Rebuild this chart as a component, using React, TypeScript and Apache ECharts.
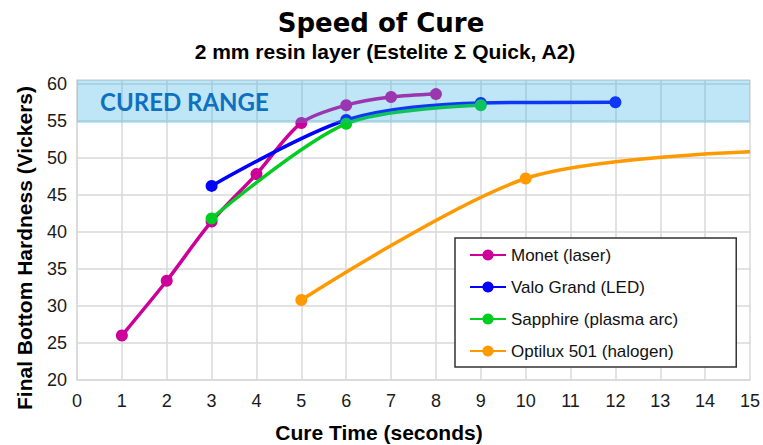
import React, { useEffect, useRef } from "react";
import * as echarts from "echarts";

// ---- data ----
const monetTime = [1, 2, 3, 4, 5, 6, 7, 8];
const monetHardness = [26.0, 33.4, 41.4, 47.8, 54.7, 57.1, 58.2, 58.6];
const valoTime = [3, 6, 9, 12];
const valoHardness = [46.2, 55.1, 57.4, 57.5];
const sapphireTime = [3, 6, 9];
const sapphireHardness = [41.8, 54.6, 57.1];
const optiluxTime = [5, 10, 15];
const optiluxHardness = [30.8, 47.2, 50.8];
const optiluxMarked = [true, true, false];
const seriesNames = [
  "Monet (laser)",
  "Valo Grand (LED)",
  "Sapphire (plasma arc)",
  "Optilux 501 (halogen)",
];
const seriesColors = ["#cc0099", "#0000ff", "#00cc22", "#ff9900"];
const curedRange = [54.7, 60.5];
const curedLabel = "CURED RANGE";
const xRange = [0, 15];
const yRange = [20, 60.5];
const titleText = "Speed of Cure";
const subtitleText = "2 mm resin layer (Estelite Σ Quick, A2)";
const xName = "Cure Time (seconds)";
const yName = "Final Bottom Hardness (Vickers)";

const pairs = (xs: number[], ys: number[]) => xs.map((x, i) => [x, ys[i]]);

export default function App() {
  const ref = useRef<HTMLDivElement>(null);
  useEffect(() => {
    document.body.style.margin = "0";
    const chart = echarts.init(ref.current!, null, { renderer: "svg" });
    const gridColor = "#d9d9d9";
    const baseFont = "'Liberation Sans', Arial, sans-serif";
    const mkSeries = (idx: number, data: any[], extra: any = {}) => ({
      name: seriesNames[idx],
      type: "line",
      data,
      smooth: 0.3,
      symbol: "circle",
      symbolSize: 12,
      showSymbol: true,
      color: seriesColors[idx],
      lineStyle: { width: 3.5, color: seriesColors[idx] },
      itemStyle: { color: seriesColors[idx] },
      z: 2 + idx,
      ...extra,
    });
    chart.setOption({
      animation: false,
      grid: { left: 77, right: 13, top: 80, bottom: 65 },
      xAxis: {
        type: "value",
        min: xRange[0],
        max: xRange[1],
        interval: 1,
        axisLine: { show: true, lineStyle: { color: gridColor, width: 1.5 } },
        axisTick: { show: false },
        splitLine: { show: true, lineStyle: { color: gridColor, width: 1.5 } },
        axisLabel: { fontSize: 18, margin: 12, color: "#1a1a1a", fontFamily: baseFont },
      },
      yAxis: {
        type: "value",
        min: yRange[0],
        max: yRange[1],
        interval: 5,
        axisLine: { show: true, lineStyle: { color: gridColor, width: 1.5 } },
        axisTick: { show: false },
        splitLine: { show: true, lineStyle: { color: gridColor, width: 1.5 } },
        axisLabel: {
          fontSize: 18,
          margin: 10,
          color: "#1a1a1a",
          fontFamily: baseFont,
          formatter: (v: number) => (v % 5 === 0 ? String(v) : ""),
        },
      },
      legend: {
        data: seriesNames,
        orient: "vertical",
        left: 455,
        top: 238,
        itemWidth: 36,
        itemHeight: 14,
        itemGap: 12,
        padding: [7, 58, 6, 14],
        borderColor: "#333333",
        borderWidth: 1.5,
        backgroundColor: "#ffffff",
        textStyle: { fontSize: 17, color: "#111111", fontFamily: baseFont, lineHeight: 20 },
      },
      series: [
        mkSeries(0, pairs(monetTime, monetHardness), {
          markArea: {
            silent: true,
            z: 20,
            itemStyle: { color: "rgba(45,175,229,0.31)" },
            label: {
              show: true,
              position: "insideLeft",
              distance: 23,
              color: "#1070c0",
              fontSize: 24,
              fontWeight: "bold",
              fontFamily: "Lato, 'Open Sans', sans-serif",
            },
            data: [
              [
                { name: curedLabel, xAxis: xRange[0], yAxis: curedRange[0] },
                { xAxis: xRange[1], yAxis: curedRange[1] },
              ],
            ],
          },
        }),
        mkSeries(1, pairs(valoTime, valoHardness)),
        mkSeries(2, pairs(sapphireTime, sapphireHardness)),
        mkSeries(
          3,
          optiluxTime.map((x, i) =>
            optiluxMarked[i]
              ? { value: [x, optiluxHardness[i]] }
              : { value: [x, optiluxHardness[i]], symbol: "none" }
          )
        ),
      ],
      graphic: [
        {
          type: "text",
          x: 381,
          y: 23,
          style: {
            text: titleText,
            fontSize: 26,
            fontWeight: "bold",
            fontFamily: "'DejaVu Sans', sans-serif",
            fill: "#000",
            textAlign: "center",
            textVerticalAlign: "middle",
          },
        },
        {
          type: "text",
          x: 385,
          y: 51,
          style: {
            text: subtitleText,
            fontSize: 21,
            fontWeight: "bold",
            fontFamily: baseFont,
            fill: "#000",
            textAlign: "center",
            textVerticalAlign: "middle",
          },
        },
        {
          type: "text",
          x: 379,
          y: 432,
          style: {
            text: xName,
            fontSize: 21,
            fontWeight: "bold",
            fontFamily: baseFont,
            fill: "#000",
            textAlign: "center",
            textVerticalAlign: "middle",
          },
        },
        {
          type: "text",
          x: 24,
          y: 248,
          rotation: Math.PI / 2,
          style: {
            text: yName,
            fontSize: 21,
            fontWeight: "bold",
            fontFamily: baseFont,
            fill: "#000",
            textAlign: "center",
            textVerticalAlign: "middle",
          },
        },
      ],
    });
    return () => chart.dispose();
  }, []);
  return <div ref={ref} style={{ width: 763, height: 445 }} />;
}
